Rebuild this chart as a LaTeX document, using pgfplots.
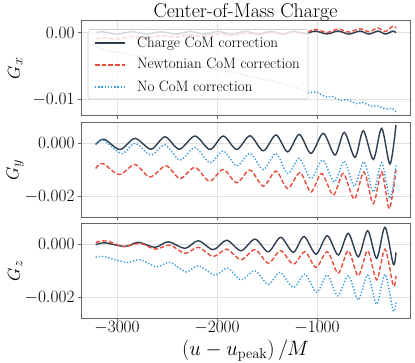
\documentclass[border=0pt]{standalone}
\usepackage{pgfplots}
\pgfplotsset{compat=1.18}
\definecolor{cCharge}{RGB}{44,62,80}
\definecolor{cNewt}{RGB}{231,76,60}
\definecolor{cNone}{RGB}{52,152,219}

\pgfplotsset{
  comstyle/.style={
    scale only axis, width=329pt, height=95pt,
    anchor=north west,
    xmin=-3360, xmax=-70,
    xtick={-3000,-2000,-1000},
    grid=major, grid style={black!12, line width=0.6pt},
    axis line style={black!60, line width=0.7pt},
    tick pos=left, tick align=outside, major tick length=3pt,
    tick style={black!60, line width=0.6pt},
    tick label style={font=\fontsize{16.5}{16.5}\selectfont},
    xticklabel style={yshift=3.5pt},
    scaled ticks=false,
    /pgf/number format/1000 sep={},
    ylabel style={at={(axis description cs:-0.2,0.5)}, anchor=center,
                  font=\fontsize{19}{19}\selectfont},
    clip=true,
  },
  charge/.style={draw=cCharge, line width=1.4pt, smooth, no markers},
  newt/.style={draw=cNewt, line width=1.4pt, smooth, no markers,
               dash pattern=on 4.5pt off 2.2pt},
  nocom/.style={draw=cNone, line width=1.4pt, smooth, no markers,
                dash pattern=on 1.3pt off 1.9pt},
}

\begin{document}
\begin{tikzpicture}
\useasboundingbox (-81pt,20.7pt) rectangle (334pt,-342.3pt);

% ---------- G_x ----------
\begin{axis}[comstyle, at={(0pt,0pt)},
    ymin=-0.0124, ymax=0.0018,
    ytick={-0.01,0}, xticklabels={},
    yticklabel style={/pgf/number format/.cd, fixed, fixed zerofill, precision=2},
    ylabel={$G_x$},
    title={Center-of-Mass Charge},
    every axis title shift=0pt,
    title style={at={(axis description cs:0.5,1)}, anchor=base, yshift=3pt,
                 inner sep=0pt, font=\fontsize{20}{20}\selectfont},
]
\addplot[charge] coordinates {
 (-3210,0.0) (-3150,0.00015) (-3000,-0.0002) (-2850,0.00015) (-2700,-0.0002)
 (-2560,0.00015) (-2410,-0.0002) (-2270,0.00018) (-2130,-0.0002) (-1990,0.00018)
 (-1850,-0.0002) (-1720,0.0002) (-1590,-0.0002) (-1460,0.0002) (-1340,-0.0002)
 (-1230,0.0002) (-1120,-0.00015) (-1020,0.00025) (-900,-0.00018) (-790,0.00025)
 (-680,-0.0002) (-570,0.00025) (-480,-0.0002) (-390,0.00025) (-315,-0.0002)
 (-240,0.00025) (-210,0.0)
};
\addplot[newt] coordinates {
 (-3210,-0.0009) (-3150,-0.00072) (-3000,-0.00095) (-2850,-0.00058) (-2700,-0.00081)
 (-2560,-0.00044) (-2410,-0.00067) (-2270,-0.0003) (-2130,-0.00054) (-1990,-0.00017)
 (-1850,-0.00041) (-1720,-0.00004) (-1590,-0.00028) (-1460,0.00008) (-1340,-0.00016)
 (-1230,0.00019) (-1120,-0.00002) (-1020,0.0005) (-900,0.00005) (-790,0.00055)
 (-680,0.0001) (-570,0.0006) (-480,0.00015) (-390,0.0007) (-315,0.0002)
 (-240,0.001) (-210,0.0007)
};
\addplot[nocom] coordinates {
 (-3210,-0.0021) (-3150,-0.0024) (-3050,-0.0028) (-2950,-0.0030) (-2850,-0.0033)
 (-2750,-0.0035) (-2650,-0.0037) (-2550,-0.0041) (-2450,-0.0043) (-2350,-0.0045)
 (-2250,-0.0049) (-2150,-0.0051) (-2050,-0.0053) (-1950,-0.0057) (-1850,-0.0059)
 (-1750,-0.0062) (-1650,-0.0066) (-1550,-0.0069) (-1450,-0.0072) (-1350,-0.0076)
 (-1250,-0.0080) (-1150,-0.0085) (-1100,-0.0090) (-1050,-0.0089) (-1000,-0.0089)
 (-950,-0.0093) (-900,-0.0096) (-850,-0.0095) (-800,-0.0099) (-750,-0.0101)
 (-700,-0.0100) (-650,-0.0103) (-600,-0.0106) (-550,-0.0104) (-500,-0.0107)
 (-450,-0.0110) (-400,-0.0109) (-350,-0.0112) (-300,-0.0114) (-250,-0.0113)
 (-210,-0.0118)
};
% legend: semi-transparent frame, samples and labels
\draw[fill=white, fill opacity=0.8, draw=black!20, line width=0.6pt, rounded corners=2pt]
  (axis description cs:0.0213,0.176) rectangle (axis description cs:0.69,0.907);
\draw[cCharge, line width=1.4pt]
  (axis description cs:0.0426,0.765) -- (axis description cs:0.1337,0.765);
\draw[cNewt, line width=1.4pt, dash pattern=on 4.5pt off 2.2pt]
  (axis description cs:0.0426,0.534) -- (axis description cs:0.1337,0.534);
\draw[cNone, line width=1.4pt, dash pattern=on 1.3pt off 1.9pt]
  (axis description cs:0.0426,0.302) -- (axis description cs:0.1337,0.302);
\begin{scope}[every node/.style={anchor=base west, inner sep=0pt, yshift=-4pt,
                                 font=\fontsize{15}{15}\selectfont}]
\node at (axis description cs:0.170,0.765) {Charge CoM correction};
\node at (axis description cs:0.170,0.534) {Newtonian CoM correction};
\node at (axis description cs:0.170,0.302) {No CoM correction};
\end{scope}
\end{axis}

% ---------- G_y ----------
\begin{axis}[comstyle, at={(0pt,-101.6pt)},
    ymin=-0.0028, ymax=0.0008,
    ytick={-0.002,0}, xticklabels={},
    yticklabel style={/pgf/number format/.cd, fixed, fixed zerofill, precision=3},
    ylabel={$G_y$},
]
\addplot[charge] coordinates {
 (-3213,-0.00004) (-3130,0.00016) (-2970,-0.00023) (-2820,0.00019) (-2660,-0.00022)
 (-2520,0.00025) (-2377,-0.00022) (-2220,0.00028) (-2070,-0.00023) (-1937,0.00028)
 (-1803,-0.00023) (-1670,0.00029) (-1537,-0.00028) (-1410,0.00032) (-1293,-0.00032)
 (-1177,0.00034) (-1060,-0.00038) (-937,0.00038) (-820,-0.00044) (-727,0.00042)
 (-620,-0.00053) (-537,0.00048) (-437,-0.00061) (-353,0.00057) (-270,-0.00078)
 (-210,0.0007)
};
\addplot[newt] coordinates {
 (-3213,-0.00095) (-3143,-0.00076) (-2977,-0.00118) (-2820,-0.0008) (-2670,-0.00127)
 (-2510,-0.00085) (-2370,-0.00133) (-2220,-0.00091) (-2077,-0.00143) (-1937,-0.00099)
 (-1803,-0.00149) (-1670,-0.00101) (-1537,-0.00162) (-1410,-0.00105) (-1293,-0.00171)
 (-1170,-0.00111) (-1060,-0.00184) (-953,-0.00114) (-837,-0.00196) (-737,-0.00114)
 (-627,-0.00211) (-530,-0.00108) (-437,-0.00228) (-353,-0.00108) (-277,-0.00247)
 (-210,-0.00101)
};
\addplot[nocom] coordinates {
 (-3213,-0.00004) (-3137,0.00013) (-2953,-0.00038) (-2820,0.0) (-2660,-0.00044)
 (-2520,-0.00006) (-2370,-0.00063) (-2220,-0.00016) (-2070,-0.00073) (-1937,-0.00029)
 (-1803,-0.00085) (-1670,-0.00038) (-1537,-0.00099) (-1410,-0.00038) (-1293,-0.00114)
 (-1177,-0.00057) (-1060,-0.00133) (-943,-0.00063) (-827,-0.00146) (-727,-0.00067)
 (-627,-0.00162) (-530,-0.0007) (-437,-0.00184) (-353,-0.00073) (-270,-0.00209)
 (-210,-0.0008)
};
\end{axis}

% ---------- G_z ----------
\begin{axis}[comstyle, at={(0pt,-202.6pt)},
    ymin=-0.0028, ymax=0.0008,
    ytick={-0.002,0},
    yticklabel style={/pgf/number format/.cd, fixed, fixed zerofill, precision=3},
    ylabel={$G_z$},
    xlabel={$(u-u_{\mathrm{peak}})\,/M$},
    xlabel style={at={(axis description cs:0.5,0)}, anchor=base, yshift=-37pt,
                  font=\fontsize{20}{20}\selectfont},
]
\addplot[charge] coordinates {
 (-3213,-0.00001) (-3120,0.00006) (-2920,-0.00008) (-2787,0.00008) (-2620,-0.00011)
 (-2487,0.0001) (-2320,-0.00015) (-2187,0.00014) (-2037,-0.0002) (-1903,0.00016)
 (-1760,-0.00024) (-1620,0.0002) (-1487,-0.00028) (-1363,0.00027) (-1237,-0.0003)
 (-1130,0.0003) (-1010,-0.00037) (-897,0.00033) (-787,-0.0004) (-687,0.00042)
 (-587,-0.00047) (-493,0.00052) (-403,-0.00053) (-320,0.00065) (-237,-0.00075)
 (-210,-0.0003)
};
\addplot[newt] coordinates {
 (-3213,0.00008) (-3103,0.00013) (-2937,-0.00008) (-2770,0.00004) (-2620,-0.00018)
 (-2470,-0.00003) (-2320,-0.00034) (-2187,-0.00011) (-2037,-0.00046) (-1903,-0.00018)
 (-1760,-0.00058) (-1620,-0.0002) (-1487,-0.00071) (-1363,-0.00024) (-1237,-0.00075)
 (-1120,-0.00028) (-1010,-0.00087) (-897,-0.00028) (-787,-0.00109) (-687,-0.00024)
 (-587,-0.00119) (-493,-0.00024) (-403,-0.00134) (-320,-0.00018) (-237,-0.00157)
 (-210,-0.00119)
};
\addplot[nocom] coordinates {
 (-3213,-0.00049) (-3137,-0.00046) (-2903,-0.00068) (-2770,-0.00058) (-2603,-0.00085)
 (-2470,-0.00068) (-2310,-0.00104) (-2187,-0.00081) (-2020,-0.00116) (-1893,-0.0009)
 (-1760,-0.00134) (-1620,-0.001) (-1487,-0.00151) (-1370,-0.00106) (-1237,-0.00163)
 (-1120,-0.00113) (-1003,-0.00182) (-897,-0.00116) (-793,-0.00195) (-687,-0.00119)
 (-587,-0.0021) (-493,-0.00116) (-403,-0.00227) (-320,-0.00113) (-237,-0.00252)
 (-210,-0.0022)
};
\end{axis}
\end{tikzpicture}
\end{document}
